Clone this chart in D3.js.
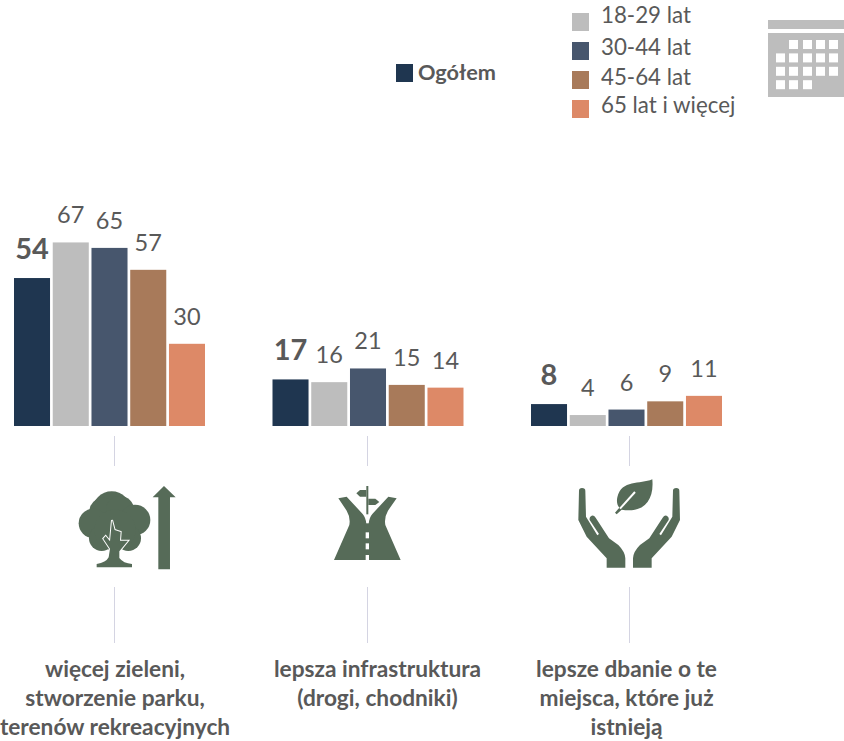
<!DOCTYPE html>
<html>
<head>
<meta charset="utf-8">
<script src="https://cdn.jsdelivr.net/npm/d3@7"></script>
<style>
	html, body { margin: 0; padding: 0; background: #fff; }
	svg { display: block; }
	text { font-family: Lato, "Open Sans", sans-serif; fill: #595959; }
</style>
</head>
<body>
<svg id="chart" width="844" height="741"></svg>
<script>
// ── Data ──────────────────────────────────────────────────────────────────────
const series = ['Ogółem', '18-29 lat', '30-44 lat', '45-64 lat', '65 lat i więcej'];
const colors = ['#1f3650', '#bdbdbd', '#47566d', '#a87a5a', '#dd8967'];
const answers = ['zielen', 'infrastruktura', 'dbanie'];
const zielen = [54, 67, 65, 57, 30];
const infrastruktura = [17, 16, 21, 15, 14];
const dbanie = [8, 4, 6, 9, 11];
const groupValues = [zielen, infrastruktura, dbanie];
const labelLines = [
	['więcej zieleni,', 'stworzenie parku,', 'terenów rekreacyjnych'],
	['lepsza infrastruktura', '(drogi, chodniki)'],
	['lepsze dbanie o te', 'miejsca, które już', 'istnieją']
];

const ICON = '#566b58';
const svg = d3.select('#chart');

// ── Scales ────────────────────────────────────────────────────────────────────
const x0 = d3.scalePoint().domain(answers).range([14, 531]);
const x1 = d3.scaleBand().domain(series).range([0, 191]).paddingInner(0.07);
const y = d3.scaleLinear().domain([0, 100]).range([426, 152]);

// ── Bars and value labels ─────────────────────────────────────────────────────
const groups = svg.selectAll('.group')
	.data(answers)
	.join('g')
	.attr('class', 'group')
	.attr('transform', d => `translate(${x0(d)},0)`);

const cells = groups.selectAll('.cell')
	.data((d, i) => groupValues[i].map((v, j) => ({ v, name: series[j], color: colors[j], total: j === 0 })))
	.join('g')
	.attr('class', 'cell');

cells.append('rect')
	.attr('x', d => x1(d.name))
	.attr('y', d => y(d.v))
	.attr('width', x1.bandwidth())
	.attr('height', d => y(0) - y(d.v))
	.attr('fill', d => d.color);

cells.append('text')
	.attr('x', d => x1(d.name) + x1.bandwidth() / 2)
	.attr('y', d => y(d.v) - (d.total ? 19 : 19))
	.attr('text-anchor', 'middle')
	.attr('font-size', d => d.total ? 29 : 23.5)
	.attr('font-weight', d => d.total ? 700 : 400)
	.text(d => d.v);

// ── Legend ────────────────────────────────────────────────────────────────────
svg.append('rect').attr('x', 396).attr('y', 64).attr('width', 17).attr('height', 18).attr('fill', colors[0]);
svg.append('text').attr('x', 418).attr('y', 80).attr('font-size', 21.7).attr('font-weight', 700).text(series[0]);

const legendY = d3.scalePoint().domain(series.slice(1)).range([13, 100]);
const legendBase = [23, 55, 85, 113];
const legend = svg.selectAll('.legend')
	.data(series.slice(1))
	.join('g')
	.attr('class', 'legend');
legend.append('rect')
	.attr('x', 572).attr('y', d => legendY(d))
	.attr('width', 17).attr('height', 18)
	.attr('fill', (d, i) => colors[i + 1]);
legend.append('text')
	.attr('x', 601).attr('y', (d, i) => legendBase[i])
	.attr('font-size', 22.3)
	.text(d => d);

// ── Calendar icon ─────────────────────────────────────────────────────────────
const calendar = svg.append('g').attr('class', 'calendar');
calendar.append('rect').attr('x', 768).attr('y', 20).attr('width', 76).attr('height', 9).attr('fill', '#bdbdbd');
calendar.append('rect').attr('x', 768).attr('y', 33).attr('width', 76).attr('height', 64).attr('fill', '#bdbdbd');
const calCols = [776, 789, 803, 816, 829];
const calRows = [[1, 2, 3, 4], [0, 1, 2, 3, 4], [0, 1, 2, 3, 4], [0, 1, 2]];
calRows.forEach((cols, r) => {
	cols.forEach(c => {
		calendar.append('rect')
			.attr('x', calCols[c]).attr('y', 40 + r * 13.4)
			.attr('width', 9).attr('height', 9)
			.attr('fill', '#fff');
	});
});

// ── Separators ────────────────────────────────────────────────────────────────
[114.5, 367.5, 629.5].forEach(sx => {
	[[436, 466], [587, 643]].forEach(([a, b]) => {
		svg.append('line')
			.attr('x1', sx).attr('x2', sx).attr('y1', a).attr('y2', b)
			.attr('stroke', '#d4d4e2').attr('stroke-width', 1);
	});
});

// ── Pictograms ────────────────────────────────────────────────────────────────
// tree with arrow
const tree = svg.append('g').attr('transform', 'translate(60,470) scale(0.3333)');
[[155, 122, 58], [130, 125, 42], [180, 120, 42], [100, 160, 44], [225, 150, 46], [125, 205, 38], [205, 205, 38], [165, 180, 62]].forEach(([cx, cy, r]) => {
	tree.append('circle').attr('cx', cx).attr('cy', cy).attr('r', r).attr('fill', ICON);
});
tree.append('path').attr('fill', ICON)
	.attr('stroke', '#fff').attr('stroke-width', 6).attr('paint-order', 'stroke')
	.attr('d', 'M156,150 L164,180 L182,186 L180,212 L204,212 L178,244 L178,264 Q190,280 216,282 L216,292 L110,292 L110,282 Q138,278 146,262 L150,236 L130,206 L137,198 L150,214 Z');
tree.append('path').attr('fill', ICON)
	.attr('d', 'M295,298 L295,82 L278,82 L312,48 L347,82 L330,82 L330,298 Z');

// road with signpost
const road = svg.append('g').attr('transform', 'translate(320,480) scale(0.3333)');
road.append('path').attr('fill', ICON)
	.attr('d', 'M55,55 L80,50 L128,102 Q138,114 139,132 L139,240 L42,240 L88,135 Q92,112 80,92 Z');
road.append('path').attr('fill', ICON)
	.attr('d', 'M230,55 L205,50 L157,102 Q147,114 146,132 L146,240 L242,240 L196,135 Q192,112 204,92 Z');
road.append('rect').attr('x', 135).attr('y', 130).attr('width', 15).attr('height', 110).attr('fill', ICON);
[[157, 18], [190, 18], [225, 15]].forEach(([dy, h]) => {
	road.append('rect').attr('x', 137).attr('y', dy).attr('width', 10).attr('height', h).attr('fill', '#fff');
});
road.append('rect').attr('x', 139).attr('y', 18).attr('width', 6).attr('height', 85).attr('fill', ICON);
road.append('path').attr('fill', ICON).attr('d', 'M139,30 L120,30 L109,40 L120,50 L139,50 Z');
road.append('path').attr('fill', ICON).attr('d', 'M145,56 L166,56 L178,66 L166,75 L145,75 Z');

// hands with leaf
const hands = svg.append('g').attr('transform', 'translate(565,470) scale(0.3333)');
const handPath = 'M42,62 Q42,54 51,54 Q61,54 61,62 L63,140 L97,196 L102,192 L74,150 Q72,140 80,137 Q87,135 92,143 L132,205 L160,225 Q180,245 181,265 L181,293 L125,293 L125,265 L65,200 L40,150 Z';
hands.append('path').attr('fill', ICON).attr('d', handPath);
hands.append('path').attr('fill', ICON).attr('d', handPath).attr('transform', 'translate(385,0) scale(-1,1)');
hands.append('path').attr('fill', ICON)
	.attr('d', 'M262,28 C225,44 170,28 157,82 C154,96 157,106 163,113 L150,128 L155,133 L170,119 C235,130 268,92 262,28 Z');
hands.append('path').attr('fill', 'none').attr('stroke', '#fff').attr('stroke-width', 6)
	.attr('d', 'M210,66 L165,116');

// ── Answer labels ─────────────────────────────────────────────────────────────
const labelX = [115, 377.5, 626.5];
labelLines.forEach((lines, i) => {
	lines.forEach((line, k) => {
		svg.append('text')
			.attr('x', labelX[i])
			.attr('y', 677 + k * 29)
			.attr('text-anchor', 'middle')
			.attr('font-size', 22.7)
			.attr('font-weight', 700)
			.text(line);
	});
});
</script>
</body>
</html>
